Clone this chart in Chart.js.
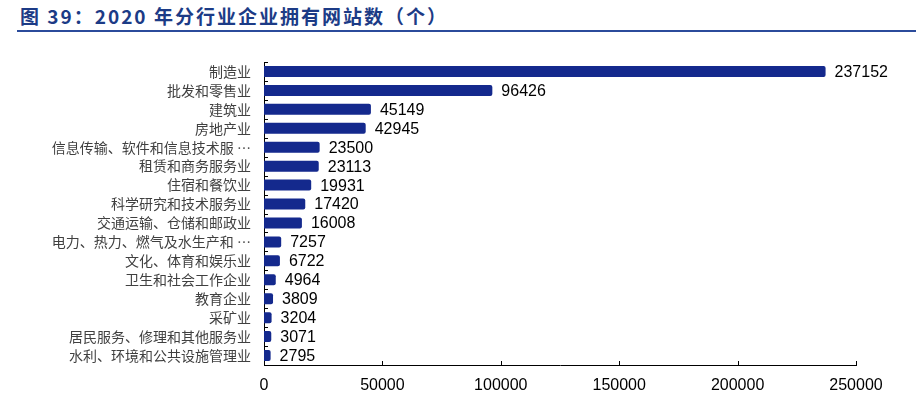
<!DOCTYPE html>
<html>
<head>
<meta charset="utf-8">
<script src="https://cdn.jsdelivr.net/npm/chart.js@4/dist/chart.umd.min.js"></script>
<style>
    body { margin: 0; background: #fff; width: 916px; height: 394px; overflow: hidden; position: relative; }
    #title {
        position: absolute; left: 20px; top: 2px;
        font: bold 19px "Noto Sans CJK SC", "Liberation Sans", sans-serif;
        color: #1c3b86; letter-spacing: 2px; white-space: nowrap;
    }
    #rule { position: absolute; left: 17px; right: 0; top: 30px; height: 2px; background: #2b4b9b; }
    #chart { position: absolute; left: 0; top: 0; }
</style>
</head>
<body>
<div id="title">图 39：2020 年分行业企业拥有网站数（个）</div>
<div id="rule"></div>
<canvas id="chart" width="916" height="394"></canvas>
<script>
const industries = [
    '制造业', '批发和零售业', '建筑业', '房地产业',
    '信息传输、软件和信息技术服 …', '租赁和商务服务业', '住宿和餐饮业',
    '科学研究和技术服务业', '交通运输、仓储和邮政业', '电力、热力、燃气及水生产和 …',
    '文化、体育和娱乐业', '卫生和社会工作企业', '教育企业', '采矿业',
    '居民服务、修理和其他服务业', '水利、环境和公共设施管理业'
];
const websites = [237152, 96426, 45149, 42945, 23500, 23113, 19931, 17420,
    16008, 7257, 6722, 4964, 3809, 3204, 3071, 2795];
const xTicks = [0, 50000, 100000, 150000, 200000, 250000];

// 刻度线朝内 + 数值标签
const extras = {
    id: 'extras',
    afterDatasetsDraw(chart) {
        const ctx = chart.ctx;
        const x = chart.scales.x, y = chart.scales.y;
        ctx.save();
        ctx.strokeStyle = '#000';
        ctx.lineWidth = 1;
        ctx.beginPath();
        xTicks.forEach(v => {
            const px = Math.round(x.getPixelForValue(v)) + 0.5;
            ctx.moveTo(px, y.bottom);
            ctx.lineTo(px, y.bottom - 4);
        });
        for (let i = 0; i <= industries.length; i++) {
            const py = Math.round(y.getPixelForValue(i - 0.5)) + 0.5;
            ctx.moveTo(x.left, py);
            ctx.lineTo(x.left + 4, py);
        }
        ctx.stroke();

        const meta = chart.getDatasetMeta(0);
        ctx.fillStyle = '#000';
        ctx.font = '16px "Liberation Sans", Arial, sans-serif';
        ctx.textBaseline = 'middle';
        ctx.textAlign = 'left';
        meta.data.forEach((bar, i) => {
            ctx.fillText(websites[i], bar.x + 9, bar.y + 1);
        });
        ctx.restore();
    }
};

new Chart(document.getElementById('chart'), {
    type: 'bar',
    data: {
        labels: industries,
        datasets: [{
            data: websites,
            backgroundColor: '#14298d',
            borderWidth: 0,
            borderRadius: 2,
            barPercentage: 0.58,
            categoryPercentage: 1
        }]
    },
    options: {
        indexAxis: 'y',
        responsive: false,
        animation: false,
        layout: { padding: { left: 0, right: 60, top: 62, bottom: 0 } },
        plugins: { legend: { display: false }, tooltip: { enabled: false } },
        scales: {
            x: {
                min: 0,
                max: 250000,
                afterBuildTicks: scale => { scale.ticks = xTicks.map(v => ({ value: v })); },
                afterFit: scale => { scale.height = 29; },
                grid: { display: false, drawTicks: false },
                border: { display: true, color: '#000', width: 1 },
                ticks: {
                    padding: 11,
                    color: '#000',
                    callback: v => String(v),
                    font: { family: '"Liberation Sans", Arial, sans-serif', size: 16 }
                }
            },
            y: {
                afterFit: scale => { scale.width = 264; },
                grid: { display: false, drawTicks: false },
                border: { display: true, color: '#000', width: 1 },
                ticks: {
                    padding: 13,
                    autoSkip: false,
                    color: '#404040',
                    font: { family: '"Noto Sans CJK SC", sans-serif', size: 14 }
                }
            }
        }
    },
    plugins: [extras]
});
</script>
</body>
</html>
